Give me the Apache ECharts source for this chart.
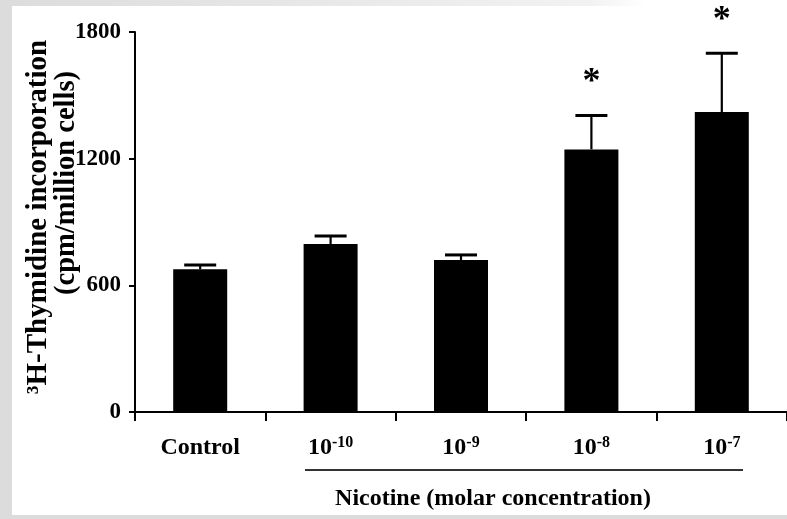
<!DOCTYPE html>
<html>
<head>
<meta charset="utf-8">
<script src="https://cdn.jsdelivr.net/npm/echarts@6/dist/echarts.min.js"></script>
<style>
  html, body { margin: 0; padding: 0; background: #fff; }
  #chart { width: 787px; height: 519px; }
</style>
</head>
<body>
<div id="chart"></div>
<script>
const categories = ['Control', '10-10', '10-9', '10-8', '10-7'];
const exponents = [null, '-10', '-9', '-8', '-7'];
const values = [676, 796, 720, 1244, 1421];
const errors = [20, 38, 24, 161, 278];
const significant = [false, false, false, true, true];
const yTicks = [0, 600, 1200, 1800];
const yTitle1 = '\u00B3H-Thymidine incorporation';
const yTitle2 = '(cpm/million cells)';
const xTitle = 'Nicotine (molar concentration)';

const FONT = '"Liberation Serif", "Times New Roman", serif';
const chart = echarts.init(document.getElementById('chart'), null, { renderer: 'canvas' });

const option = {
  backgroundColor: '#ffffff',
  animation: false,
  grid: { left: 135, right: -3, top: 32, bottom: 107, containLabel: false },
  xAxis: {
    type: 'category',
    data: categories,
    axisLine: { lineStyle: { color: '#000', width: 2 } },
    axisTick: { show: true, length: 9, lineStyle: { color: '#000', width: 2 } },
    axisLabel: {
      margin: 23,
      color: '#000',
      formatter: function (v, i) {
        return exponents[i] ? '{b|10}{sup|' + exponents[i] + '}' : '{b|' + v + '}';
      },
      rich: {
        b: { fontFamily: FONT, fontWeight: 'bold', fontSize: 24, color: '#000', lineHeight: 26 },
        sup: { fontFamily: FONT, fontWeight: 'bold', fontSize: 16, color: '#000', verticalAlign: 'top', lineHeight: 26, padding: [0, 0, 11, 0] }
      }
    },
    splitLine: { show: false }
  },
  yAxis: {
    type: 'value',
    min: 0,
    max: 1800,
    interval: 600,
    axisLine: { show: true, lineStyle: { color: '#000', width: 2 } },
    axisTick: { show: true, length: 6, lineStyle: { color: '#000', width: 2 } },
    axisLabel: {
      margin: 14,
      color: '#000',
      fontFamily: FONT,
      fontWeight: 'bold',
      fontSize: 23,
      formatter: function (v) { return yTicks.indexOf(v) >= 0 ? String(v) : ''; }
    },
    splitLine: { show: false }
  },
  graphic: [
    { type: 'rect', left: 0, top: 0, shape: { width: 12, height: 519 }, style: { fill: '#dcdcdc' }, silent: true, z: 100 },
    { type: 'rect', left: 0, top: 0, shape: { width: 787, height: 6 },
      style: { fill: new echarts.graphic.LinearGradient(0, 0, 1, 0, [
        { offset: 0, color: '#dcdcdc' }, { offset: 0.75, color: '#f2f2f2' }, { offset: 0.82, color: '#ffffff' }, { offset: 1, color: '#ffffff' }
      ]) }, silent: true, z: 100 },
    { type: 'rect', left: 0, top: 515, shape: { width: 787, height: 4 }, style: { fill: '#dcdcdc' }, silent: true, z: 100 },
    { type: 'text', x: 39, y: 217, rotation: Math.PI / 2,
      style: { text: yTitle1, font: 'bold 29px ' + FONT, fill: '#000', align: 'center', verticalAlign: 'middle' } },
    { type: 'text', x: 67, y: 183, rotation: Math.PI / 2,
      style: { text: yTitle2, font: 'bold 28.5px ' + FONT, fill: '#000', align: 'center', verticalAlign: 'middle' } },
    { type: 'line', shape: { x1: 305, y1: 470, x2: 743, y2: 470 }, style: { stroke: '#333', lineWidth: 2 } },
    { type: 'text', x: 493, y: 499,
      style: { text: xTitle, font: 'bold 24px ' + FONT, fill: '#000', align: 'center', verticalAlign: 'middle' } }
  ],
  series: [
    {
      type: 'bar',
      data: values,
      barWidth: 54,
      itemStyle: { color: '#000' },
      z: 2
    },
    {
      type: 'custom',
      z: 3,
      data: categories.map(function (c, i) { return [i, values[i], errors[i], significant[i] ? 1 : 0]; }),
      encode: { x: 0, y: 1 },
      renderItem: function (params, api) {
        const x = api.value(0);
        const v = api.value(1);
        const e = api.value(2);
        const sig = api.value(3);
        const base = api.coord([x, v]);
        const cap = api.coord([x, v + e]);
        const children = [
          { type: 'line', shape: { x1: base[0], y1: base[1], x2: cap[0], y2: cap[1] }, style: { stroke: '#000', lineWidth: 2.2 } },
          { type: 'line', shape: { x1: cap[0] - 16, y1: cap[1], x2: cap[0] + 16, y2: cap[1] }, style: { stroke: '#000', lineWidth: 3 } }
        ];
        if (sig) {
          children.push({ type: 'text', style: { text: '*', x: cap[0], y: cap[1] - 33, align: 'center', verticalAlign: 'middle',
            font: 'bold 36px ' + FONT, fill: '#000' } });
        }
        return { type: 'group', children: children };
      }
    }
  ]
};
chart.setOption(option);
</script>
</body>
</html>
